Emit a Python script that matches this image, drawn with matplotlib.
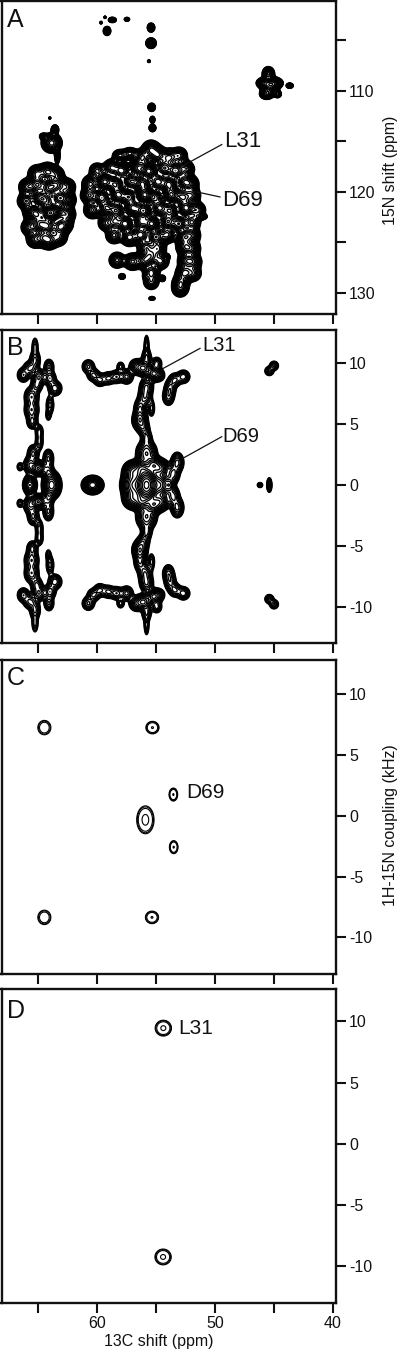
import numpy as np
import matplotlib
matplotlib.use("Agg")
import matplotlib.pyplot as plt

plt.rcParams['font.family'] = ['Liberation Sans', 'DejaVu Sans']

# ---------- tick data ----------
C13_TICKS = [65, 60, 55, 50, 45, 40]
C13_LABELS = ['', '60', '', '50', '', '40']
N15_TICKS = [105, 110, 115, 120, 125, 130]
N15_LABELS = ['', '110', '', '120', '', '130']
KHZ_TICKS = [10, 5, 0, -5, -10]
KHZ_LABELS = ['10', '5', '0', '-5', '-10']

# ---------- panel A, resolved spots: 13C, 15N, height, width 13C, width 15N ----------
A_SPOT_C = [59.66, 59.32, 58.7, 57.46, 59.15, 55.42, 55.42, 55.6, 55.37, 55.3, 55.3, 64.0,
            45.48, 45.9, 44.9, 45.62, 44.7, 45.34, 43.67,
            63.84, 63.56, 64.55, 63.36,
            57.88, 55.88, 54.44, 54.01, 53.81, 52.12, 58.05, 57.2, 55.34, 51.2]
A_SPOT_N = [103.27, 102.74, 103.0, 102.94, 104.09, 103.76, 105.3, 107.08, 111.64, 112.86, 113.68, 112.7,
            108.3, 109.24, 109.24, 110.33, 110.33, 109.5, 109.5,
            115.16, 113.84, 114.5, 116.47,
            128.36, 128.36, 128.55, 126.42, 115.88, 117.78, 116.4, 116.2, 130.53, 122.45]
A_SPOT_H = [2.5, 2.5, 6, 6, 6, 6, 8, 2.5, 6, 5, 7, 3,
            8, 8, 8, 8, 6, 14, 6,
            10, 7, 5, 6,
            6, 3, 6, 5, 3, 6, 7, 7, 3, 6]
A_SPOT_WC = [.07, .07, .18, .12, .17, .17, .22, .09, .17, .12, .15, .06,
             .26, .30, .33, .30, .17, .36, .16,
             .42, .16, .17, .12,
             .15, .12, .13, .10, .09, .15, .32, .32, .18, .28]
A_SPOT_WN = [.10, .09, .14, .10, .24, .24, .26, .10, .22, .19, .19, .07,
             .34, .26, .26, .26, .19, .40, .14,
             .48, .24, .16, .38,
             .15, .15, .16, .15, .09, .15, .30, .30, .13, .16]

# ---------- panel A, crowded peaks ----------
A_BODY_C = [65.1, 64.2, 63.5,
            65.9, 65.05, 64.05, 63.4, 62.55,
            66.0, 64.8, 64.25, 63.15, 62.5,
            65.55, 65.1, 64.0, 63.4, 62.55,
            65.7, 64.85, 64.2, 63.15, 62.75,
            65.25, 64.55, 64.05, 63.25,
            55.42, 56.15, 54.85, 53.9, 53.05,
            60.0, 58.75, 57.9, 56.5, 55.6, 54.3, 53.35, 52.5,
            60.55, 59.35, 58.45, 57.1, 56.15, 54.85, 53.9, 52.6, 52.1,
            60.65, 59.6, 58.2, 57.3, 55.95, 55.05, 53.7, 52.75, 51.95,
            60.4, 59.2, 58.35, 56.95, 56.05, 54.7, 53.8, 52.45, 51.5,
            59.25, 58.5, 57.6, 56.25, 55.35, 54.0, 53.05, 51.95,
            58.55, 57.25, 56.3, 55.0, 54.05, 52.6, 51.95,
            55.85, 54.85, 52.55, 51.95,
            58.3, 57.0, 56.0, 55.45, 54.6, 52.45, 51.85,
            55.4, 52.6, 51.85,
            52.9, 55.4, 52.95]
A_BODY_N = [118.2, 118.0, 118.3,
            119.5, 119.3, 119.6, 119.3, 119.5,
            120.9, 120.6, 120.9, 120.6, 120.8,
            122.0, 122.2, 122.1, 121.9, 122.2,
            123.5, 123.2, 123.4, 123.5, 123.2,
            124.7, 124.5, 124.8, 124.5,
            115.81, 116.6, 116.35, 116.6, 116.4,
            117.9, 117.6, 117.9, 117.65, 117.95, 117.65, 117.9, 117.7,
            119.2, 119.0, 119.25, 118.95, 119.2, 119.0, 119.25, 119.0, 119.2,
            120.35, 120.55, 120.3, 120.5, 120.3, 120.55, 120.3, 120.5, 120.35,
            121.8, 121.6, 121.85, 121.6, 121.85, 121.6, 121.85, 121.6, 121.8,
            123.1, 122.95, 123.15, 122.95, 123.15, 122.95, 123.15, 123.0,
            124.3, 124.5, 124.25, 124.45, 124.25, 124.45, 124.3,
            125.5, 125.6, 125.45, 125.6,
            126.75, 126.9, 126.8, 126.35, 126.85, 126.8, 126.9,
            127.96, 128.0, 128.05,
            128.95, 128.9, 129.6]
A_BODY_H = [9, 12, 8,
            8, 14, 18, 14, 8,
            9, 16, 12, 18, 8,
            8, 14, 40, 16, 9,
            8, 16, 18, 12, 8,
            8, 10, 12, 8,
            12, 9, 12, 9, 7,
            5, 8, 10, 12, 30, 14, 16, 8,
            8, 18, 14, 12, 24, 16, 18, 10, 8,
            9, 14, 18, 16, 40, 12, 20, 12, 8,
            8, 12, 14, 18, 26, 18, 14, 16, 7,
            5, 8, 14, 12, 18, 14, 12, 8,
            7, 10, 10, 12, 8, 10, 8,
            8, 8, 10, 8,
            6, 8, 9, 8, 7, 8, 8,
            7, 9, 6,
            7, 5, 6]

# ---------- panel B, kHz >= 0 half; the other half mirrors it ----------
B_C = [65.25, 65.25, 65.68, 66.24, 64.89, 64.07, 63.98, 63.56, 63.98, 64.12, 65.1, 65.54, 65.54, 65.48,
       64.89, 64.89, 65.4, 65.68, 66.53, 64.12, 64.12, 64.97, 65.68, 63.84,
       60.37, 60.73, 60.3, 59.75, 59.04, 58.33, 58.0, 57.49, 56.64, 56.07, 55.23, 54.94, 54.8, 55.8, 55.8,
       55.8, 55.93, 56.36, 55.37, 56.36, 56.07, 55.8,
       55.8, 55.23, 56.2, 56.92, 55.8, 54.66, 53.87, 54.66, 56.92,
       53.2, 53.55, 53.8, 53.95, 53.4, 52.68,
       45.4, 45.0, 45.4, 46.19]
B_K = [11.37, 10.27, 9.59, 9.04, 8.9, 9.73, 8.77, 7.95, 6.58, 5.75, 8.22, 7.26, 6.16, 5.2,
       4.38, 3.56, 2.6, 1.64, 1.5, 2.19, 1.1, 1.37, 0, 0,
       0, 9.73, 9.04, 8.63, 8.77, 8.9, 9.73, 8.9, 9.73, 9.59, 9.18, 10.0, 9.04, 11.5, 10.4,
       8.08, 7.26, 6.3, 6.3, 5.34, 4.66, 3.84,
       2.6, 1.64, 1.37, 0, 0, 0, 0, 1.37, 1.1,
       1.85, 0.9, 7.95, 7.26, 8.63, 8.9,
       9.37, 9.8, 0, 0]
B_H = [4, 6, 6, 7, 7, 6, 7, 7, 5, 3, 6, 7, 7, 6,
       5, 5, 6, 7, 3, 6, 6, 20, 25, 30,
       40, 6, 6, 6, 6, 7, 4, 8, 8, 15, 15, 5, 6, 4, 6,
       7, 7, 7, 4, 15, 7, 6,
       12, 25, 25, 30, 200, 30, 12, 20, 20,
       8, 8, 6, 6, 6, 7,
       6, 6, 6, 6]
B_WC = [.15, .24, .30, .26, .30, .22, .26, .30, .18, .14, .26, .32, .32, .24,
        .18, .18, .26, .28, .16, .24, .24, .30, .25, .34,
        .36, .28, .28, .28, .28, .28, .18, .28, .32, .30, .30, .24, .28, .12, .22,
        .30, .30, .26, .15, .30, .26, .24,
        .42, .32, .32, .45, .40, .35, .20, .35, .40,
        .28, .28, .26, .26, .28, .28,
        .20, .20, .12, .12]
B_WK = [.42, .42, .32, .30, .32, .32, .32, .32, .42, .28, .32, .42, .42, .32,
        .32, .38, .38, .38, .22, .40, .40, .28, .35, .48,
        .30, .30, .28, .28, .28, .28, .22, .30, .32, .30, .30, .28, .28, .48, .44,
        .38, .42, .42, .38, .40, .32, .38,
        .52, .33, .33, .50, .60, .50, .35, .35, .40,
        .42, .42, .38, .38, .30, .28,
        .20, .20, .32, .11]

# ---------- panel C and D ----------
C_C = [64.46, 55.3, 53.53, 55.9, 53.5, 64.46, 55.34]
C_K = [7.26, 7.26, 1.75, -0.33, -2.58, -8.36, -8.36]
C_H = [7, 10, 10, 14, 10, 7, 10]
C_WC = [.28, .26, .17, .32, .17, .28, .26]
C_WK = [.30, .24, .25, .50, .25, .30, .24]

D_C = [54.38, 54.4]
D_K = [9.45, -9.26]
D_H = [12, 12]
D_WC = [.31, .31]
D_WK = [.29, .29]

# ---------- contour levels ----------
A_LEVELS = 1.0 * 1.17 ** np.arange(27)
B_LEVELS = 1.0 * 1.28 ** np.arange(23)
SPARSE_LEVELS = [1.0, 1.45, 2.4, 9.5]

# ---------- layout (pixels) ----------
W, H = 400, 1351
XLIM = (68.09, 39.75)
PANELS = {'A': (1, 314), 'B': (330, 643), 'C': (660.3, 974), 'D': (989, 1302.7)}
YLIMS = {'A': (132.07, 101.13), 'B': (-12.98, 12.74), 'C': (-13.02, 12.8), 'D': (-13.0, 12.65)}


def field(xg, yg, cx, cy, h, wx, wy):
    z = np.zeros_like(xg)
    for a, b, c, d, e in zip(cx, cy, h, wx, wy):
        z += c * np.exp(-0.5 * ((xg - a) / d) ** 2 - 0.5 * ((yg - b) / e) ** 2)
    return z


fig = plt.figure(figsize=(W / 100, H / 100), dpi=100, facecolor='white')
axes = {}
for name, (top, bottom) in PANELS.items():
    ax = fig.add_axes([1.5 / W, 1 - bottom / H, 334.5 / W, (bottom - top) / H])
    ax.set_xlim(*XLIM)
    ax.set_ylim(*YLIMS[name])
    ax.yaxis.tick_right()
    ax.set_xticks(C13_TICKS)
    ax.set_xticklabels(C13_LABELS if name == 'D' else [''] * 6)
    if name == 'A':
        ax.set_yticks(N15_TICKS)
        ax.set_yticklabels(N15_LABELS)
    else:
        ax.set_yticks(KHZ_TICKS)
        ax.set_yticklabels(KHZ_LABELS)
    ax.tick_params(axis='both', direction='out', length=7, width=1.5, labelsize=11.5, pad=2.5, colors='#111111')
    for s in ax.spines.values():
        s.set_linewidth(1.7)
        s.set_color('#111111')
    axes[name] = ax

xs = np.linspace(XLIM[1], XLIM[0], 900)

# A
ax = axes['A']
yg = np.linspace(101.13, 132.07, 900)
X, Y = np.meshgrid(xs, yg)
Z = field(X, Y, A_SPOT_C, A_SPOT_N, A_SPOT_H, A_SPOT_WC, A_SPOT_WN)
n = len(A_BODY_C)
Z += field(X, Y, A_BODY_C, A_BODY_N, A_BODY_H, [.36] * n, [.42] * n)
ax.contour(X, Y, Z, levels=A_LEVELS, colors='black', linewidths=0.95)

# B
ax = axes['B']
yg = np.linspace(-12.98, 12.74, 900)
X, Y = np.meshgrid(xs, yg)
bk = np.array(B_K)
upper = bk > 0
bc = np.concatenate([B_C, np.array(B_C)[upper]])
bkk = np.concatenate([bk, -bk[upper]])
bh = np.concatenate([B_H, np.array(B_H)[upper]])
bwc = np.concatenate([B_WC, np.array(B_WC)[upper]])
bwk = np.concatenate([B_WK, np.array(B_WK)[upper]])
Z = field(X, Y, bc, bkk, bh, bwc, bwk)
ax.contour(X, Y, Z, levels=B_LEVELS, colors='black', linewidths=0.95)

# C
ax = axes['C']
yg = np.linspace(-13.02, 12.8, 900)
X, Y = np.meshgrid(xs, yg)
Z = field(X, Y, C_C, C_K, C_H, C_WC, C_WK)
ax.contour(X, Y, Z, levels=SPARSE_LEVELS, colors='black', linewidths=0.8)

# D
ax = axes['D']
yg = np.linspace(-13.0, 12.65, 900)
X, Y = np.meshgrid(xs, yg)
Z = field(X, Y, D_C, D_K, D_H, D_WC, D_WK)
ax.contour(X, Y, Z, levels=SPARSE_LEVELS, colors='black', linewidths=0.8)

# annotations
txt = dict(color='#111111', va='center', ha='left')
axes['A'].plot([52.54, 49.43], [117.3, 115.32], color='#111111', lw=0.9)
axes['A'].plot([51.55, 49.58], [120.0, 120.5], color='#111111', lw=0.9)
axes['A'].text(49.24, 115.0, 'L31', fontsize=16, **txt)
axes['A'].text(49.43, 120.84, 'D69', fontsize=16, **txt)
axes['B'].plot([54.38, 51.27], [9.59, 11.23], color='#111111', lw=0.9)
axes['B'].plot([52.74, 49.43], [2.19, 3.97], color='#111111', lw=0.9)
axes['B'].text(51.05, 11.45, 'L31', fontsize=14.5, **txt)
axes['B'].text(49.35, 3.97, 'D69', fontsize=14.5, **txt)
axes['C'].text(52.46, 1.92, 'D69', fontsize=15, **txt)
axes['D'].text(53.1, 9.45, 'L31', fontsize=15, **txt)

for name, yfrac in zip('ABCD', [0.94, 0.943, 0.943, 0.93]):
    axes[name].text(0.016, yfrac, name, transform=axes[name].transAxes, fontsize=18, **txt)

# axis labels
label = dict(fontsize=11.5, rotation=90, color='#111111', va='center', ha='center')
fig.text(390 / W, 1 - 170 / H, '15N shift (ppm)', **label)
fig.text(390 / W, 1 - 825 / H, '1H-15N coupling (kHz)', **label)
fig.text(159 / W, 1 - 1341.7 / H, '13C shift (ppm)', fontsize=11.5, color='#111111', va='center', ha='center')

fig.savefig('out.png', dpi=100, facecolor='white')
